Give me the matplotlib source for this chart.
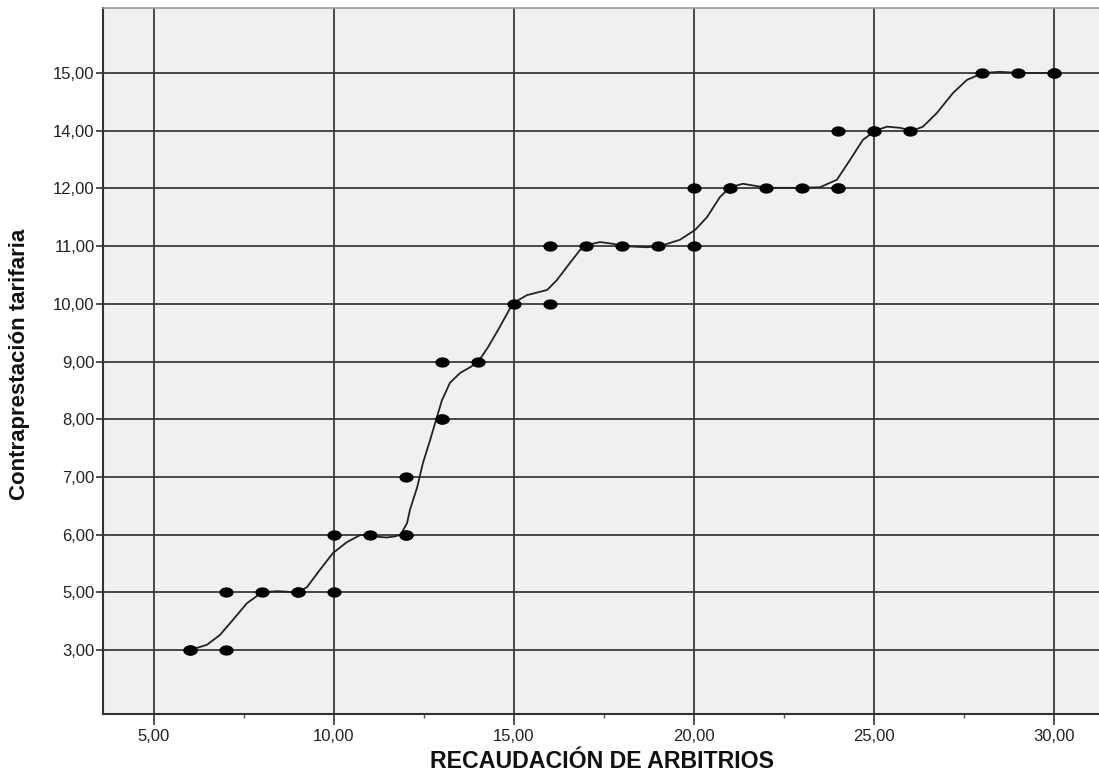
import matplotlib
matplotlib.use("Agg")
import matplotlib.pyplot as plt
import numpy as np
from matplotlib.path import Path
from matplotlib.ticker import FixedLocator, FuncFormatter

# ---- data ----
y_categories = [3, 5, 6, 7, 8, 9, 10, 11, 12, 14, 15]

recaudacion = [6, 6, 7, 7, 8, 9, 9, 10, 10, 11, 12, 12, 12, 13, 13, 13, 14, 15,
               16, 16, 17, 18, 19, 20, 20, 21, 21, 22, 23, 24, 24, 24,
               25, 25, 26, 28, 29, 30, 30]
contraprestacion = [3, 3, 5, 3, 5, 5, 5, 6, 5, 6, 7, 6, 6, 9, 8, 8, 9, 10,
                    11, 10, 11, 11, 11, 12, 11, 12, 12, 12, 12, 14, 12, 12,
                    14, 14, 14, 15, 15, 15, 15]

# fit line (x, position on the category scale)
fit_x = [6.0, 6.47, 6.83, 7.19, 7.58, 8.0, 8.42, 8.7, 8.97, 9.25, 9.61, 9.97, 10.36,
         10.72, 11.0, 11.25, 11.47, 11.7, 11.85, 12.03, 12.11, 12.31, 12.47, 12.67, 12.86,
         13.0, 13.22, 13.5, 13.78, 14.0, 14.28, 14.56, 14.8, 14.97, 15.36,
         15.92, 16.19, 16.47, 16.83, 17.03, 17.39, 17.75, 18.03, 18.69, 19.06,
         19.61, 20.03, 20.36, 20.72, 21.0, 21.36, 22.03, 23.03, 23.5, 23.97,
         24.33, 24.69, 25.03, 25.36, 25.72, 26.06, 26.36, 26.75, 27.19, 27.58,
         28.03, 28.5, 29.06, 30.0]
fit_pos = [0.0, 0.09, 0.26, 0.52, 0.81, 1.0, 1.02, 1.01, 0.99, 1.09, 1.39, 1.68, 1.87,
           1.99, 2.0, 1.96, 1.95, 1.97, 2.0, 2.2, 2.43, 2.82, 3.24, 3.64, 4.04,
           4.33, 4.63, 4.80, 4.90, 4.99, 5.25, 5.55, 5.82, 6.01, 6.15,
           6.24, 6.41, 6.64, 6.93, 7.02, 7.07, 7.04, 7.0, 6.98, 7.0,
           7.11, 7.28, 7.50, 7.85, 8.02, 8.08, 8.01, 8.01, 8.02, 8.15,
           8.49, 8.84, 9.0, 9.07, 9.05, 9.0, 9.07, 9.31, 9.65, 9.88,
           10.0, 10.02, 10.0, 10.0]

x_ticks = [5, 10, 15, 20, 25, 30]
x_minor = [7.5, 12.5, 17.5, 22.5, 27.5]

# ---- plot ----
W, H = 1099, 773
fig = plt.figure(figsize=(W / 100, H / 100), dpi=100)
fig.patch.set_facecolor("white")
left, right, bottom, top = 103, 1099, 714, 8
ax = fig.add_axes([left / W, 1 - bottom / H, (right - left) / W, (bottom - top) / H])
ax.set_facecolor("#f0f0f0")

px_per_x = 36.0
ax.set_xlim(5 - (154 - left) / px_per_x, 5 + (right - 154) / px_per_x)
step = 57.7
ax.set_ylim(-(bottom - 650) / step, (650 - top) / step)

grid_c = "#3a3a3a"
for xv in x_ticks:
    ax.axvline(xv, color=grid_c, lw=1.3, zorder=1)
for i in range(len(y_categories)):
    ax.axhline(i, color=grid_c, lw=1.3, zorder=1)

pos_map = {v: i for i, v in enumerate(y_categories)}
ypos = [pos_map[v] for v in contraprestacion]

ax.plot(fit_x, fit_pos, color="#222222", lw=1.3, zorder=2,
        solid_joinstyle="round", solid_capstyle="round")

theta = np.linspace(0, 2 * np.pi, 60)
ell = Path(np.column_stack([np.cos(theta), 0.72 * np.sin(theta)]), closed=True)
ax.scatter(recaudacion, ypos, marker=ell, s=105, color="black", zorder=3, linewidths=0)

ax.xaxis.set_major_locator(FixedLocator(x_ticks))
ax.xaxis.set_minor_locator(FixedLocator(x_minor))
ax.xaxis.set_major_formatter(FuncFormatter(lambda v, p: f"{v:.2f}".replace(".", ",")))
ax.yaxis.set_major_locator(FixedLocator(list(range(len(y_categories)))))
ax.yaxis.set_major_formatter(FuncFormatter(
    lambda v, p: f"{y_categories[int(round(v))]:.2f}".replace(".", ",")
    if 0 <= int(round(v)) < len(y_categories) else ""))

ax.tick_params(axis="x", which="major", length=8, width=1.2, color="#333333",
               labelsize=12, labelcolor="#222222", pad=3)
ax.tick_params(axis="x", which="minor", length=3, width=1.0, color="#555555")
ax.tick_params(axis="y", which="major", length=5, width=1.2, color="#333333",
               labelsize=12, labelcolor="#222222", pad=1)
for lab in ax.get_xticklabels() + ax.get_yticklabels():
    lab.set_fontfamily("Liberation Sans")

for side in ["left", "bottom"]:
    ax.spines[side].set_color("#333333")
    ax.spines[side].set_linewidth(1.5)
ax.spines["top"].set_color("#999999")
ax.spines["top"].set_linewidth(1.2)
ax.spines["right"].set_visible(False)

fig.text(602 / W, 1 - 762 / H, "RECAUDACIÓN DE ARBITRIOS", ha="center", va="center",
         fontsize=16.7, fontweight="bold", family="Liberation Sans", color="#111111")
fig.text(20 / W, 1 - 364 / H, "Contraprestación tarifaria", ha="center", va="center",
         rotation=90, fontsize=16, fontweight="bold",
         family="Liberation Sans", color="#111111")

fig.savefig("out.png", dpi=100)
